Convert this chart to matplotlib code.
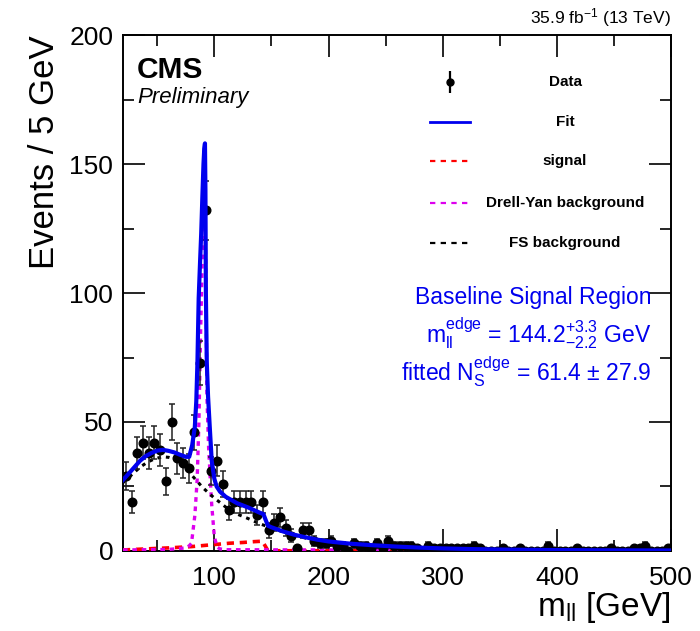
import numpy as np
import matplotlib
matplotlib.use('Agg')
import matplotlib.pyplot as plt

plt.rcParams['font.family'] = ['Liberation Sans', 'DejaVu Sans']
plt.rcParams['mathtext.fontset'] = 'custom'
plt.rcParams['mathtext.rm'] = 'Liberation Sans'
plt.rcParams['mathtext.it'] = 'Liberation Sans:italic'
plt.rcParams['mathtext.bf'] = 'Liberation Sans:bold'

# ---------------------------- data ---------------------------- #

# 5 GeV bins from 20 to 500 GeV, centres
bin_centres = np.arange(22.5, 500, 5.0)
counts = [29, 19, 38, 42, 38, 42, 39, 27, 50, 36,
          34, 32, 46, 73, 132, 31, 35, 26, 16, 19,
          19, 19, 19, 14, 19, 8, 11, 13, 9, 6,
          1, 8, 8, 4, 3, 3, 4, 2, 2, 0,
          3, 2, 2, 1, 3, 1, 4, 2, 2, 2,
          2, 1, 0, 2, 1, 1, 1, 1, 1, 1,
          1, 2, 1, 0, 0, 0, 1, 0, 0, 1,
          0, 0, 0, 0, 2, 0, 0, 0, 0, 1,
          0, 0, 0, 0, 0, 1, 0, 0, 0, 1,
          1, 2, 0, 0, 0, 1]

fit_x = [20, 25, 30, 35, 40, 45, 50, 55, 60, 65, 70, 75, 78, 80.6, 82.9, 84.2,
         85.2, 86.3, 87.5, 88.5, 89.5, 90.5, 91.2, 91.8, 92.2, 92.6, 93.4, 94.5,
         96, 97.7, 100, 102, 105, 110, 120, 130, 140, 143, 145, 147, 150, 160,
         170, 180, 190, 200, 220, 240, 260, 280, 300, 330, 360, 400, 450, 500]
fit_y = [27.5, 30, 32.5, 35, 36.8, 38, 38.9, 39.2, 38.8, 38.2, 37.3, 36.5, 36.5,
         41, 48, 58, 73, 98, 112, 123, 137, 150, 156, 158, 140, 100, 73, 60,
         48, 35, 28, 25, 23, 21, 18.5, 16.8, 14.8, 14.3, 12, 9.8, 9.2, 7.6,
         6.3, 5.3, 4.4, 3.7, 2.8, 2.2, 1.7, 1.3, 1.0, 0.7, 0.5, 0.35, 0.25, 0.2]

sig_x = [20, 40, 60, 80, 100, 113, 125, 134, 142, 144.5, 147, 200, 300, 500]
sig_y = [0.4, 0.8, 1.2, 1.7, 2.5, 3.0, 3.3, 3.6, 3.8, 2.0, 0.1, 0.1, 0.1, 0.1]

dy_x = [20, 60, 75, 78, 80, 83, 85, 86.5, 88, 89.5, 91, 91.8, 92.5, 93.5, 95,
        96.2, 97.7, 100, 102.5, 105, 110, 200, 500]
dy_y = [0.4, 0.6, 1.2, 2, 3, 14, 28, 50, 85, 115, 130, 133, 110, 60, 40,
        30, 18, 5.5, 1.5, 0.8, 0.5, 0.4, 0.4]

fs_x = [20, 25, 30, 35, 40, 45, 50, 55, 60, 65, 70, 75, 80, 85, 90, 95, 100,
        105, 110, 115, 120, 130, 140, 150, 160, 170, 180, 190, 200, 220, 240,
        260, 280, 300, 350, 400, 450, 500]
fs_y = [26.5, 28.5, 30.5, 32.5, 34, 35.2, 36, 36.5, 36.3, 35.6, 34.3, 32.5,
        29.5, 27, 24.5, 22.5, 20.5, 18.8, 17, 15.5, 14.3, 12.5, 10.5, 9, 7.4,
        6.1, 5, 4.2, 3.5, 2.5, 1.8, 1.3, 0.95, 0.7, 0.35, 0.2, 0.12, 0.08]

legend_labels = ['Data', 'Fit', 'signal', 'Drell-Yan background', 'FS background']

# ---------------------------- plot ---------------------------- #

fig = plt.figure(figsize=(7, 6.31), dpi=100)
ax = fig.add_axes([0.1757, 0.1268, 0.7829, 0.8177])

counts = np.array(counts, dtype=float)
yerr = np.sqrt(counts)

ax.plot(sig_x, sig_y, color='red', lw=2.6, dashes=(2.0, 1.6), zorder=3)
ax.plot(dy_x, dy_y, color='#dd00ee', lw=2.4, dashes=(1.4, 1.4), zorder=3)
ax.plot(fs_x, fs_y, color='black', lw=2.2, dashes=(1.2, 1.6), zorder=3)
ax.errorbar(bin_centres, counts, yerr=yerr, fmt='o', color='black', ms=6.2,
            ecolor='#222222', elinewidth=1.1, capsize=2.4, capthick=1.1, zorder=4)
ax.plot(fit_x, fit_y, color='#0000ee', lw=3.0, zorder=5)

ax.set_xlim(20, 500)
ax.set_ylim(0, 200)
ax.set_xticks([100, 200, 300, 400, 500])
ax.set_xticks(np.arange(50, 500, 100), minor=True)
ax.set_yticks([0, 50, 100, 150, 200])
ax.set_yticks([25, 75, 125, 175], minor=True)
ax.tick_params(which='both', direction='in', top=True, right=True,
               labelsize=19, width=1.2)
ax.tick_params(which='major', length=16, pad=7)
ax.tick_params(axis='x', which='major', pad=11)
ax.tick_params(which='minor', length=8)
for sp in ax.spines.values():
    sp.set_linewidth(1.4)

ax.set_xlabel(r'$\mathrm{m_{ll}}$ [GeV]', fontsize=24, loc='right', labelpad=0)
ax.set_ylabel('Events / 5 GeV', fontsize=25, loc='top', labelpad=6)

ax.text(0.0255, 0.932, 'CMS', transform=ax.transAxes, fontsize=21.5,
        fontweight='bold', va='center', ha='left')
ax.text(0.0255, 0.878, 'Preliminary', transform=ax.transAxes, fontsize=16,
        style='italic', va='center', ha='left')
ax.text(1.0, 1.012, r'35.9 fb$^{-1}$ (13 TeV)', transform=ax.transAxes,
        fontsize=12.5, ha='right', va='bottom')

# legend drawn by hand, ROOT style with centred labels
rows = [0.9089, 0.8314, 0.7558, 0.6744, 0.5969]
ax.errorbar([0.5967], [rows[0]], yerr=[0.022], fmt='o', color='black', ms=5,
            elinewidth=1.6, transform=ax.transAxes, clip_on=False)
ax.plot([0.56, 0.633], [rows[1]] * 2, color='#0000ee', lw=2.0, transform=ax.transAxes)
ax.plot([0.56, 0.633], [rows[2]] * 2, color='red', lw=1.6, dashes=(2.4, 2.4),
        transform=ax.transAxes)
ax.plot([0.56, 0.633], [rows[3]] * 2, color='#dd00ee', lw=1.6, dashes=(2.4, 2.4),
        transform=ax.transAxes)
ax.plot([0.56, 0.633], [rows[4]] * 2, color='black', lw=1.6, dashes=(2.4, 2.4),
        transform=ax.transAxes)
for lab, yy in zip(legend_labels, rows):
    ax.text(0.8066, yy, lab, transform=ax.transAxes, fontsize=11,
            fontweight='bold', ha='center', va='center')

blue = '#0000ee'
ax.text(0.9635, 0.4922, 'Baseline Signal Region', transform=ax.transAxes,
        fontsize=16.5, color=blue, ha='right', va='center')
ax.text(0.9635, 0.4225, r'$\mathrm{m_{ll}^{edge}}$ = 144.2$^{+3.3}_{-2.2}$ GeV',
        transform=ax.transAxes, fontsize=16.5, color=blue, ha='right', va='center')
ax.text(0.9635, 0.3469, r'fitted $\mathrm{N_{S}^{edge}}$ = 61.4 ± 27.9',
        transform=ax.transAxes, fontsize=16.5, color=blue, ha='right', va='center')

fig.savefig('out.png', dpi=100)
